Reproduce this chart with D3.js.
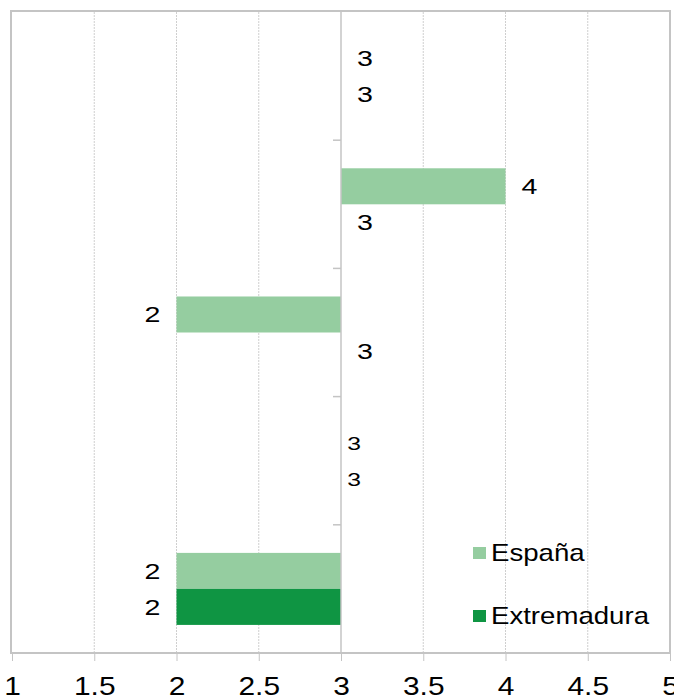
<!DOCTYPE html>
<html>
<head>
<meta charset="utf-8">
<script src="https://cdn.jsdelivr.net/npm/d3@7"></script>
<style>
  html, body { margin: 0; padding: 0; background: #fff; }
  svg { display: block; font-family: "Liberation Sans", Arial, sans-serif; }
</style>
</head>
<body>
<svg id="chart" width="674" height="696"></svg>
<script>
// ── data ──
const categories = ['g1', 'g2', 'g3', 'g4', 'g5'];   // top → bottom, no visible labels
const series     = ['España', 'Extremadura'];
const espana      = [3, 4, 2, 3, 2];
const extremadura = [3, 3, 3, 3, 2];
const xTicks      = [1, 1.5, 2, 2.5, 3, 3.5, 4, 4.5, 5];
const baseValue   = 3;

const colors = { 'España': '#95cda0', 'Extremadura': '#0f9543' };
const STRETCH = 1.15;      // source text is a bit wider than the font
const LABEL_STRETCH = 1.3;
const smallLabelGroup = 3; // that group has smaller labels in the source

const svg = d3.select('#chart');
const plot = { left: 12, right: 670, top: 12, bottom: 653 };

const x = d3.scaleLinear().domain([1, 5]).range([plot.left, plot.right]);
const y0 = d3.scaleBand().domain(categories).range([plot.top, plot.bottom]);
const y1 = d3.scaleBand().domain(series).range([0, y0.bandwidth()]).paddingOuter(0.78);

// gridlines
svg.append('g').selectAll('line')
  .data(xTicks.filter(t => t !== 1 && t !== 5 && t !== baseValue))
  .join('line')
  .attr('x1', d => x(d)).attr('x2', d => x(d))
  .attr('y1', plot.top).attr('y2', plot.bottom)
  .attr('stroke', '#cfcfcf').attr('stroke-width', 1)
  .attr('stroke-dasharray', '2,1');

// frame
svg.append('rect')
  .attr('x', plot.left - 1).attr('y', plot.top - 1)
  .attr('width', plot.right - plot.left + 1).attr('height', plot.bottom - plot.top + 1)
  .attr('fill', 'none').attr('stroke', '#c4c4c4').attr('stroke-width', 2);

// bars
const rows = categories.map((c, i) => ({ cat: c, i, vals: [espana[i], extremadura[i]] }));
const grp = svg.append('g').selectAll('g').data(rows).join('g')
  .attr('transform', d => `translate(0,${y0(d.cat)})`);

grp.selectAll('rect')
  .data(d => series.map((s, j) => ({ s, v: d.vals[j] })))
  .join('rect')
  .attr('x', d => x(Math.min(baseValue, d.v)))
  .attr('width', d => Math.abs(x(d.v) - x(baseValue)))
  .attr('y', d => y1(d.s))
  .attr('height', y1.bandwidth())
  .attr('fill', d => colors[d.s]);

// vertical axis at 3
svg.append('line')
  .attr('x1', x(baseValue)).attr('x2', x(baseValue))
  .attr('y1', plot.top).attr('y2', plot.bottom)
  .attr('stroke', '#c4c4c4').attr('stroke-width', 1.5);
svg.append('g').selectAll('line')
  .data(categories.slice(1))
  .join('line')
  .attr('x1', x(baseValue) - 8).attr('x2', x(baseValue))
  .attr('y1', d => y0(d)).attr('y2', d => y0(d))
  .attr('stroke', '#c4c4c4').attr('stroke-width', 1.5);

// data labels
grp.each(function(d) {
  const small = d.i === smallLabelGroup;
  d3.select(this).selectAll('text')
    .data(series.map((s, j) => ({ s, v: d.vals[j] })))
    .join('text')
    .attr('transform', e => {
      const off = small ? 13 : 24;
      const tx = e.v < baseValue ? x(e.v) - off : x(e.v) + off;
      const ty = y1(e.s) + y1.bandwidth() / 2 + (small ? 7 : 8);
      return `translate(${tx},${ty}) scale(${LABEL_STRETCH},1)`;
    })
    .attr('text-anchor', 'middle')
    .attr('font-size', small ? 19 : 22)
    .attr('fill', '#000')
    .text(e => e.v);
});

// x axis
const xAxis = svg.append('g')
  .attr('transform', `translate(0,${plot.bottom})`)
  .call(d3.axisBottom(x).tickValues(xTicks).tickSize(8).tickSizeOuter(0)
    .tickFormat(d => String(d)));
xAxis.select('.domain').remove();
xAxis.selectAll('.tick line').attr('stroke', '#c4c4c4').attr('stroke-width', 1);
xAxis.selectAll('.tick text')
  .attr('y', null).attr('dy', null)
  .attr('transform', `translate(0,42) scale(${STRETCH},1)`)
  .attr('font-size', 26)
  .attr('font-family', '"Liberation Sans", Arial, sans-serif')
  .attr('fill', '#000');

// legend
const legend = svg.append('g').selectAll('g')
  .data(series)
  .join('g')
  .attr('transform', (d, i) => `translate(473,${553 + i * 63})`);
legend.append('rect')
  .attr('x', 0).attr('y', -6).attr('width', 13).attr('height', 12)
  .attr('fill', d => colors[d]);
legend.append('text')
  .attr('transform', `translate(18,8) scale(${STRETCH},1)`)
  .attr('font-size', 24)
  .attr('fill', '#000')
  .text(d => d);
</script>
</body>
</html>
